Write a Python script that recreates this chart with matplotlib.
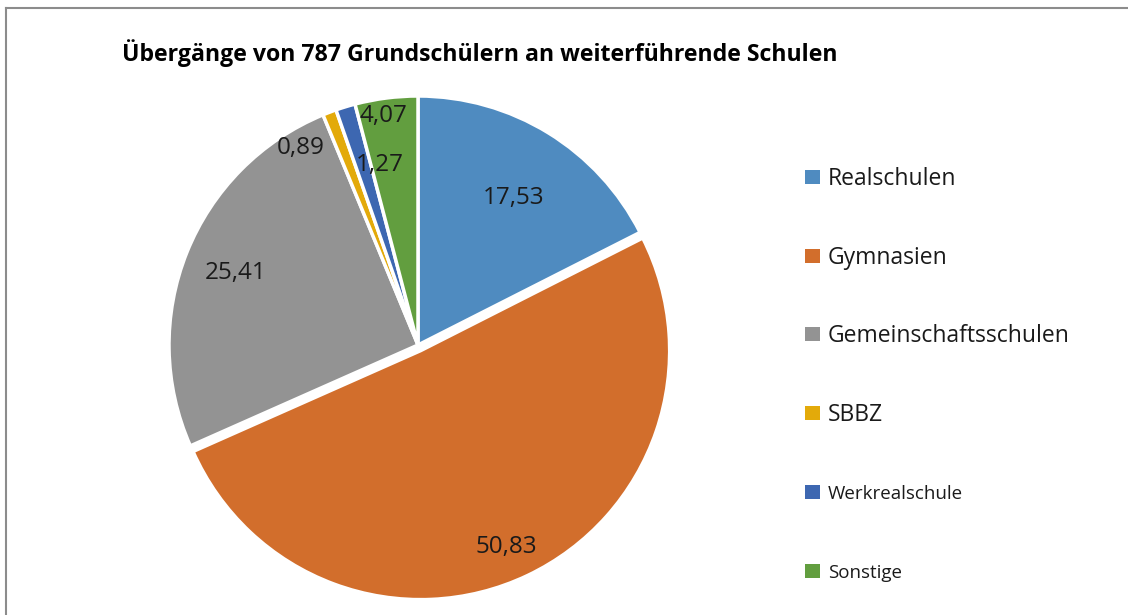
import numpy as np
import matplotlib.pyplot as plt
from matplotlib.patches import Rectangle
from matplotlib.lines import Line2D

# data
kategorien = ['Realschulen', 'Gymnasien', 'Gemeinschaftsschulen', 'SBBZ',
              'Werkrealschule', 'Sonstige']
anteile = [17.53, 50.83, 25.41, 0.89, 1.27, 4.07]
farben = ['#4f8bc0', '#d26e2c', '#939393', '#e3aa0a', '#3d67b1', '#629e3f']
titel = 'Übergänge von 787 Grundschülern an weiterführende Schulen'

# label placement tweaks (radius fraction, angle shift in degrees)
label_r = [0.71, 0.85, 0.79, 0.93, 0.75, 0.94]
label_shift = [-1, -1.5, -0.5, 9.5, -5, 1.2]
explode = [0, 0.025, 0, 0, 0, 0]

plt.rcParams['font.family'] = ['Open Sans', 'DejaVu Sans']

W, H = 1128, 615
fig = plt.figure(figsize=(W / 100, H / 100), dpi=100)

# pie center / radius in pixels
cx, cy, rad = 418, 345, 249
lim = 1.1
half = rad * lim
ax = fig.add_axes([(cx - half) / W, (H - cy - half) / H, 2 * half / W, 2 * half / H])

wedges, _ = ax.pie(anteile, colors=farben, startangle=90, counterclock=False,
                   explode=explode,
                   wedgeprops=dict(edgecolor='white', linewidth=2.5))
ax.set_xlim(-lim, lim)
ax.set_ylim(-lim, lim)
ax.set_aspect('equal')
ax.axis('off')

for w, v, r, s in zip(wedges, anteile, label_r, label_shift):
    mid = np.deg2rad((w.theta1 + w.theta2) / 2 + s)
    cxw, cyw = w.center
    ax.text(cxw + r * np.cos(mid), cyw + r * np.sin(mid) - 0.01,
            f'{v:.2f}'.replace('.', ','), ha='center', va='center',
            fontsize=17.5, color='#1a1a1a')

# title
fig.text(122 / W, 1 - 53 / H, titel, fontsize=16.7, fontweight='bold',
         ha='left', va='center', color='#000000')

# legend drawn by hand (entries have different sizes like the original)
leg_y = [177, 256, 334, 413, 492, 571]
leg_fs = [16.5, 16.5, 16.5, 16.5, 13.5, 13.5]
for name, col, y, fs in zip(kategorien, farben, leg_y, leg_fs):
    fig.patches.append(Rectangle((805 / W, 1 - (y + 7) / H), 15 / W, 14 / H,
                                 transform=fig.transFigure, facecolor=col,
                                 edgecolor='none'))
    fig.text(828 / W, 1 - (y + 2) / H, name, fontsize=fs, ha='left', va='center',
             color='#1a1a1a')

# chart frame
fig.add_artist(Line2D([6 / W, 1], [1 - 8 / H, 1 - 8 / H], color='#8c8c8c',
                      lw=1.5, transform=fig.transFigure))
fig.add_artist(Line2D([6 / W, 6 / W], [0, 1 - 8 / H], color='#8c8c8c',
                      lw=1.5, transform=fig.transFigure))

fig.savefig('out.png', dpi=100)
